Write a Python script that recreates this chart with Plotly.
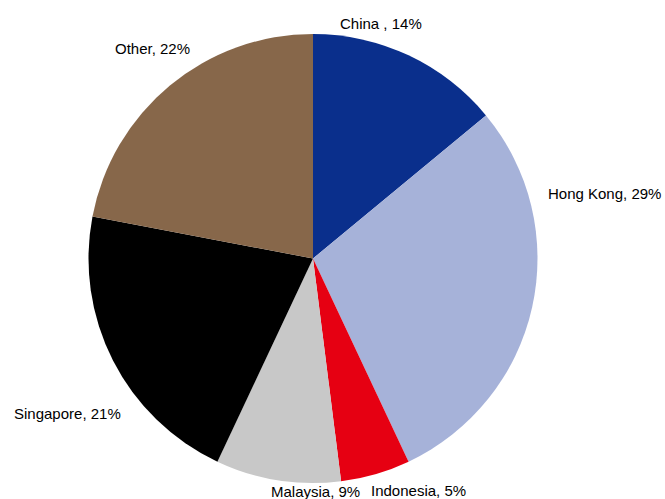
import plotly.graph_objects as go

# Share by market
markets = ["China ", "Hong Kong", "Indonesia", "Malaysia", "Singapore", "Other"]
shares = [14, 29, 5, 9, 21, 22]
colors = ["#0A2F8C", "#A6B2D9", "#E60012", "#C8C8C8", "#000000", "#87674A"]

W, H = 665, 499
# label anchor points in pixels (x, y, x-anchor)
label_pos = [
    (381, 23, "center"),
    (546, 193, "left"),
    (369, 490, "left"),
    (269, 491, "left"),
    (12, 413, "left"),
    (113, 49, "left"),
]

fig = go.Figure(
    go.Pie(
        labels=markets,
        values=shares,
        sort=False,
        direction="clockwise",
        rotation=0,
        marker=dict(colors=colors, line=dict(width=0)),
        textinfo="none",
        hoverinfo="label+percent",
        domain=dict(x=[88 / W, 538 / W], y=[(H - 483) / H, (H - 34) / H]),
        showlegend=False,
    )
)

for name, val, (px, py, anchor) in zip(markets, shares, label_pos):
    fig.add_annotation(
        x=px / W, y=1 - py / H, xref="paper", yref="paper",
        text=f"{name}, {val}%", showarrow=False,
        xanchor=anchor, yanchor="middle",
        font=dict(family="Liberation Sans, Arial, sans-serif", size=15, color="#000000"),
    )

fig.update_layout(
    width=W, height=H,
    margin=dict(l=0, r=0, t=0, b=0),
    paper_bgcolor="white", plot_bgcolor="white",
)

fig.write_html("out.html")
